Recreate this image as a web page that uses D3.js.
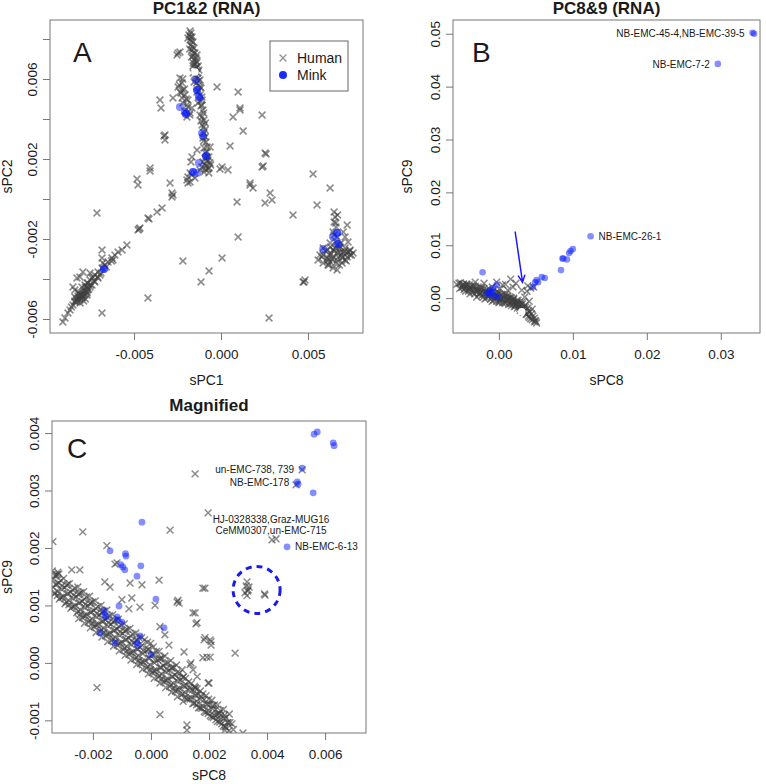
<!DOCTYPE html>
<html><head><meta charset="utf-8">
<script src="https://cdn.jsdelivr.net/npm/d3@7"></script>
<style>body{margin:0;background:#fff} svg{display:block} text{font-family:"Liberation Sans",Arial,sans-serif;fill:#1a1a1a}</style>
</head><body><svg id="c" width="766" height="784"></svg>
<script>
// ---------- DATA ----------
// Panel A: sPC1 vs sPC2
const humanA = [
[-0.00178,0.0084],[-0.00173,0.0083],[-0.00184,0.0082],[-0.00167,0.0081],[-0.00178,0.00795],[-0.00161,0.00785],[-0.0019,0.00805],
[-0.00173,0.0077],[-0.00155,0.00755],[-0.00167,0.00745],[-0.0015,0.0073],[-0.00161,0.00715],[-0.00144,0.00705],[-0.00155,0.00695],
[-0.00138,0.00685],[-0.0015,0.00675],[-0.00132,0.00665],[-0.00161,0.00665],[-0.00144,0.00655],[-0.00127,0.00645],[-0.0015,0.0062],
[-0.00132,0.00605],[-0.00121,0.00595],[-0.00155,0.00585],[-0.00127,0.0057],[-0.00115,0.00555],[-0.00138,0.00535],[-0.00121,0.0052],
[-0.00109,0.00495],[-0.00132,0.0048],[-0.00115,0.00465],[-0.00104,0.00445],[-0.00121,0.0042],[-0.00098,0.00395],[-0.00109,0.0037],
[-0.00092,0.00345],[-0.00104,0.00305],[-0.00086,0.00285],[-0.00098,0.00255],[-0.00081,0.00235],[-0.00092,0.00205],[-0.00075,0.00195],
[-0.00104,0.00185],[-0.00063,0.0018],[-0.00086,0.00165],[-0.00069,0.00155],[-0.00121,0.00145],[-0.00098,0.00135],[-0.00167,0.0012],
[-0.0015,0.00105],[-0.00178,0.00085],[-0.0019,0.0011],[-0.00178,0.0013],[-0.00196,0.00095],[-0.00138,0.0072],[-0.00144,0.0061],
[-0.00115,0.0039],[-0.00098,0.0033],[-0.0008,0.0021],[-0.00092,0.0017],[-0.00075,0.0015],
[-0.00175,0.0081],[-0.0017,0.0079],[-0.00165,0.0076],[-0.0018,0.0075],[-0.0016,0.0073],[-0.0017,0.0071],[-0.00145,0.0069],[-0.0016,0.0068],
[-0.0014,0.0066],[-0.0015,0.0065],[-0.00135,0.0063],[-0.0016,0.0063],[-0.0013,0.0059],[-0.0014,0.0058],[-0.0012,0.0056],[-0.0013,0.0054],
[-0.0011,0.0051],[-0.0012,0.0049],[-0.0011,0.0047],[-0.0010,0.0043],[-0.0011,0.0041],[-0.0009,0.0038],[-0.0010,0.0036],[-0.0009,0.0031],
[-0.0010,0.0029],[-0.0008,0.0026],[-0.0009,0.0023],[-0.0007,0.0021],[-0.0008,0.0019],[-0.0006,0.0017],[-0.0009,0.0015],[-0.0011,0.0016],[-0.0007,0.0013],
[-0.00247,0.0073],[-0.00236,0.00735],[-0.00253,0.0072],[-0.00236,0.00605],[-0.00224,0.0058],[-0.00247,0.0056],[-0.00219,0.00545],
[-0.00236,0.00535],[-0.00207,0.0052],[-0.00224,0.00505],[-0.0019,0.00495],[-0.00196,0.0047],[-0.00167,0.00455],[-0.00196,0.0041],
[-0.00178,0.0043],[-0.00351,0.00495],[-0.00345,0.00455],[-0.00276,0.00505],[-0.00322,0.0032],[-0.00322,0.00295],[-0.00328,0.00315],
[-0.0022,0.0060],[-0.0024,0.0057],[-0.0021,0.0055],[-0.0023,0.0053],[-0.0020,0.0050],[-0.0022,0.0048],[-0.0019,0.0046],[-0.0021,0.0044],[-0.0018,0.0042],
[-0.00023,0.0056],[0.00098,0.00535],[0.00109,0.00455],[0.00069,0.0041],[0.00236,0.0042],[0.00127,0.0034],[0.00052,0.00265],
[0.00259,0.00225],[0.00242,0.00165],[0.00529,0.00125],[0.00627,0.00055],[-0.00006,0.0015],[0.0004,0.00145],[0.00167,0.0008],
[0.00184,0.00055],[0.00282,0.0003],[0.00293,-0.00005],[0.00253,-0.0002],[0.00092,-0.00015],[0.00414,-0.0008],[0.00552,-0.0003],
[0.00098,-0.0019],[0.00477,-0.00415],[0.00483,-0.00405],[-0.00063,0.0026],[-0.00167,0.0021],[-0.00138,0.00245],[-0.00173,0.00185],
[0.00006,0.0016],[-0.00408,0.00155],[-0.00483,0.001],[-0.00477,0.0007],[-0.00408,0.0014],[-0.00293,0.0008],[-0.00282,0.0003],
[-0.00276,0.0002],[-0.00282,0.0001],[-0.0019,0.0008],[-0.00713,-0.0007],[-0.00339,-0.00045],[-0.00368,-0.00065],[-0.00414,-0.001],
[-0.0042,-0.00095],[-0.00219,-0.0031],[0.00006,-0.00295],[-0.00069,-0.0036],[-0.00115,-0.00415],[-0.0042,-0.00495],[-0.00684,-0.0057],
[0.00276,-0.00595],[0.00472,-0.00415],[0.00109,0.00445],[0.00253,0.0023],[0.00236,0.0016],[0.00167,0.0007],
[-0.00909,-0.00615],[-0.00897,-0.00595],[-0.0088,-0.0057],[-0.00868,-0.00555],[-0.00851,-0.0053],[-0.0084,-0.00515],[-0.00828,-0.00505],
[-0.00822,-0.00495],[-0.00811,-0.0049],[-0.00799,-0.0048],[-0.00794,-0.0047],[-0.00782,-0.00455],[-0.00771,-0.0044],[-0.00765,-0.0042],
[-0.00753,-0.00405],[-0.00742,-0.00395],[-0.00736,-0.0039],[-0.00725,-0.0038],[-0.00707,-0.00365],[-0.00684,-0.00345],[-0.00667,-0.0033],
[-0.0065,-0.00315],[-0.00627,-0.00295],[-0.0061,-0.0028],[-0.00592,-0.00265],[-0.00569,-0.00255],[-0.00541,-0.0023],[-0.00477,-0.00155],
[-0.00466,-0.00145],[-0.00471,-0.0015],[-0.00828,-0.00395],[-0.00811,-0.0039],[-0.00794,-0.00365],[-0.00753,-0.0037],[-0.00851,-0.0044],
[-0.0084,-0.00455],[-0.00684,-0.00255],[-0.00684,-0.00295],[-0.00679,-0.0032],[-0.00621,-0.00305],
[-0.00828,-0.00515],[-0.00811,-0.00505],[-0.00799,-0.00495],[-0.00822,-0.00485],[-0.00782,-0.0048],[-0.00794,-0.0049],[-0.00771,-0.00465],
[-0.00811,-0.0047],[-0.0084,-0.0049],[-0.00765,-0.00455],[-0.00753,-0.0044],[-0.00742,-0.0043],[-0.00725,-0.00415],[-0.00782,-0.0043],
[-0.00707,-0.00395],[-0.00696,-0.0038],[-0.0079,-0.0051],[-0.0081,-0.0048],[-0.0077,-0.0047],
[-0.0083,-0.0050],[-0.0081,-0.0052],[-0.0080,-0.0048],[-0.0078,-0.0050],[-0.0079,-0.0046],[-0.0077,-0.0048],[-0.0076,-0.0045],[-0.0082,-0.0047],
[-0.0084,-0.0051],[-0.0078,-0.0044],[-0.0075,-0.0043],[-0.0073,-0.0041],[-0.0071,-0.0039],[-0.0069,-0.0037],[-0.0066,-0.0034],[-0.0063,-0.0031],
[-0.0086,-0.0054],[-0.0080,-0.0044],[-0.0077,-0.0042],
[0.0065,-0.00065],[0.00656,-0.0009],[0.0065,-0.00115],[0.00661,-0.0014],[0.00644,-0.00165],[0.00667,-0.0019],[0.00702,-0.00165],
[0.00725,-0.0013],[0.00713,-0.0019],[0.0073,-0.00215],[0.00627,-0.0022],[0.0061,-0.00255],[0.00587,-0.00245],[0.00569,-0.0028],
[0.00558,-0.00305],[0.00587,-0.0032],[0.00615,-0.0033],[0.00644,-0.00345],[0.00667,-0.00355],[0.00696,-0.0032],[0.00713,-0.00305],
[0.00742,-0.0028],[0.00759,-0.0027],[0.0073,-0.00265],[0.00702,-0.0027],[0.00673,-0.0029],[0.00644,-0.0029],[0.00627,-0.0028],
[0.0061,-0.00295],[0.00656,-0.00245],[0.00684,-0.0024],[0.00713,-0.00245],[0.00725,-0.0029],[0.00627,-0.00315],[0.00667,-0.00305],
[0.00696,-0.00295],[0.00587,-0.0028],[0.00742,-0.00255],[0.00684,-0.00265],[0.00644,-0.00255],[0.00667,-0.0023],[0.0065,-0.0026],
[0.0069,-0.0028],[0.0072,-0.0027],[0.0062,-0.0030],[0.0066,-0.0032],
[0.0060,-0.0026],[0.0063,-0.0024],[0.0068,-0.0025],[0.0071,-0.0026],[0.0074,-0.0026],[0.0070,-0.0029],[0.0067,-0.0027],[0.0064,-0.0030],
[0.0061,-0.0031],[0.0058,-0.0029],[0.0068,-0.0033],[0.0072,-0.0031],[0.0066,-0.0021],[0.0069,-0.0022],[0.0065,-0.0018],[0.0066,-0.0012],
[0.0067,-0.0008],[0.0063,-0.0027],[0.0075,-0.0028],[0.0062,-0.0033]
];
const minkA = [
[-0.00144,0.00595],[-0.00138,0.00545],[-0.00138,0.00545],[-0.00126,0.0051],[-0.00126,0.0051],[-0.00236,0.0046],[-0.00207,0.00435],
[-0.00201,0.00425],[-0.00201,0.00425],[-0.00109,0.0033],[-0.00104,0.00315],[-0.00086,0.00215],[-0.00086,0.00215],[-0.00127,0.0018],
[-0.00161,0.00135],[-0.00161,0.00135],[-0.00138,0.0013],[-0.00673,-0.0035],[-0.00673,-0.0035],[0.00667,-0.0017],[0.00667,-0.0017],
[0.00673,-0.00225],[0.00673,-0.00225],[0.00587,-0.0025],[0.00644,-0.0019]
];
const whiteA = [[-0.0015,0.00635]];

// Panel B: sPC8 vs sPC9
const humanB = [
[-0.0054,0.0028],[-0.0049,0.0025],[-0.0043,0.0026],[-0.0039,0.0021],[-0.0034,0.0023],[-0.0028,0.0017],[-0.0023,0.0019],[-0.0018,0.0013],
[-0.0012,0.0015],[-0.0007,0.0009],[-0.0001,0.0011],[0.0004,0.0006],[0.0009,0.0008],[0.0015,0.0002],[0.0020,0],[0.0026,-0.0004],
[0.0031,-0.0008],[0.0036,-0.0013],[0.0039,-0.0019],[0.0042,-0.0026],[0.0046,-0.0034],[0.0049,-0.0042],[0.0051,-0.0047],
[-0.0046,0.0019],[-0.0036,0.0015],[-0.0026,0.0009],[-0.0015,0.0004],[-0.0005,0],[0.0001,-0.0004],[0.0008,-0.0008],[0.0015,-0.0011],
[0.0022,-0.0015],[0.0028,-0.0019],[0.0034,-0.0026],[-0.0009,0.0021],[0.0001,0.0017],[0.0012,0.0015],[0.0019,0.0021],[0.0009,0.0026],
[0.0016,0.0036],[0.0023,0.0028],[0.0031,0.0015],[0.0038,0.0013],[0.0043,0.0019],[0.0047,0.0021],[0.0039,0.0023],[-0.0039,0.0008],
[-0.0030,0.0002],[-0.0019,-0.0002],[-0.0009,-0.0006],[0,-0.0009],[0.0011,-0.0002],[0.0018,-0.0006],[0.0024,-0.0011],[-0.0057,0.0026],
[-0.0032,0.0030],[-0.0020,0.0028],[-0.0003,0.0030],[0.0005,0.0025],[0.0035,0.0002],[0.0041,-0.0006],[0.0045,-0.0021],
[-0.0050,0.0020],[-0.0044,0.0022],[-0.0031,0.0014],[-0.0022,0.0012],[-0.0013,0.0008],[-0.0004,0.0005],[0.0006,0.0001],[0.0012,-0.0003],
[0.0019,-0.0004],[0.0025,-0.0008],[0.0030,-0.0013],[0.0033,-0.0018],[0.0038,-0.0030],[0.0043,-0.0039],[0.0048,-0.0045],
[-0.0047,0.0023],[-0.0041,0.0017],[-0.0025,0.0015],[-0.0016,0.0010],[-0.0002,0.0003],[0.0003,-0.0001],[0.0010,0.0003],[0.0017,0.0000],
[0.0021,-0.0009],[0.0027,-0.0012],[0.0032,-0.0022],[0.0040,-0.0034],
[-0.0052,0.0029],[-0.0053,0.0018],[-0.0048,0.0027],[-0.0047,0.0016],[-0.0049,0.0022],[-0.0044,0.0027],[-0.0045,0.0013],
[-0.0040,0.0025],[-0.0041,0.0013],[-0.0040,0.0018],[-0.0036,0.0023],[-0.0035,0.0011],[-0.0037,0.0018],[-0.0032,0.0022],[-0.0033,0.0008],
[-0.0031,0.0017],[-0.0028,0.0021],[-0.0027,0.0006],[-0.0029,0.0012],[-0.0024,0.0020],[-0.0023,0.0005],[-0.0025,0.0010],[-0.0020,0.0018],
[-0.0021,0.0002],[-0.0019,0.0009],[-0.0016,0.0016],[-0.0017,0.0000],[-0.0015,0.0007],[-0.0012,0.0011],[-0.0011,-0.0002],[-0.0013,0.0004],
[-0.0008,0.0013],[-0.0007,-0.0004],[-0.0009,0.0003],[-0.0004,0.0010],[-0.0003,-0.0006],[-0.0005,0.0002],[0,0.0009],[0.0001,-0.0007],
[-0.0001,0.0001],[0.0004,0.0007],[0.0005,-0.0009],[0.0003,-0.0002],[0.0008,0.0005],[0.0009,-0.0010],[0.0007,-0.0003],[0.0012,0.0003],
[0.0013,-0.0012],[0.0011,-0.0005],[0.0016,0.0001],[0.0017,-0.0014],[0.0015,-0.0007],[0.0020,-0.0002],[0.0021,-0.0016],[0.0019,-0.0009],
[0.0024,-0.0005],[0.0025,-0.0019],[0.0023,-0.0012],[0.0028,-0.0008],[0.0029,-0.0023],[0.0027,-0.0015],[0.0032,-0.0011],[0.0033,-0.0027],
[0.0031,-0.0019],[0.0036,-0.0017],[0.0037,-0.0031],[0.0035,-0.0024],[0.0040,-0.0024],[0.0041,-0.0037],[0.0044,-0.0030],[0.0045,-0.0041],
[0.0048,-0.0038],[0.0050,-0.0044]
];
const minkB = [
[0.0343,0.0502],[0.0345,0.0500],[0.0296,0.0443],[0.0124,0.0117],[0.0100,0.0093],[0.0097,0.0089],[0.0095,0.0085],[0.0086,0.0075],
[0.0087,0.0075],[0.0092,0.0073],[0.0084,0.0053],[0.0062,0.0038],[0.0058,0.0040],[0.0051,0.0034],[0.0049,0.0030],[0.0053,0.0030],
[0.0046,0.0021],[-0.0022,0.0049],[-0.0003,0.0025],[-0.0012,0.0015],[-0.0008,0.0019],[-0.0016,0.0009],[-0.0005,0.0004],[-0.0001,0.0002],
[-0.0012,0.0006],[-0.0014,0.0010],[-0.0009,0.0011]
];
const whiteB = [[0.0031,-0.0026]];
const labelsB = [
  {text:"NB-EMC-45-4,NB-EMC-39-5", at:[0.0343,0.0502], side:"left"},
  {text:"NB-EMC-7-2", at:[0.0296,0.0443], side:"left"},
  {text:"NB-EMC-26-1", at:[0.0124,0.0117], side:"right"}
];
const arrowB = {from:[0.0022,0.0126], to:[0.0032,0.0030]};

// Panel C: magnified sPC8 vs sPC9
const humanC = [
[-0.00340,0.00160],[-0.00335,0.00146],[-0.00338,0.00132],[-0.00332,0.00120],[-0.00322,0.00154],[-0.00318,0.00139],[-0.00321,0.00124],[-0.00316,0.00111],
[-0.00301,0.00147],[-0.00297,0.00131],[-0.00302,0.00116],[-0.00296,0.00103],[-0.00281,0.00138],[-0.00277,0.00123],[-0.00282,0.00108],[-0.00276,0.00095],
[-0.00262,0.00130],[-0.00257,0.00115],[-0.00261,0.00100],[-0.00256,0.00087],[-0.00241,0.00122],[-0.00237,0.00107],[-0.00242,0.00092],[-0.00236,0.00079],
[-0.00222,0.00115],[-0.00217,0.00099],[-0.00221,0.00084],[-0.00216,0.00071],[-0.00201,0.00106],[-0.00197,0.00091],[-0.00202,0.00076],[-0.00196,0.00063],
[-0.00182,0.00098],[-0.00177,0.00083],[-0.00181,0.00068],[-0.00176,0.00055],[-0.00161,0.00090],[-0.00157,0.00075],[-0.00162,0.00060],[-0.00156,0.00047],
[-0.00142,0.00082],[-0.00137,0.00067],[-0.00141,0.00052],[-0.00136,0.00039],[-0.00121,0.00074],[-0.00117,0.00059],[-0.00122,0.00044],[-0.00116,0.00031],
[-0.00102,0.00066],[-0.00097,0.00051],[-0.00101,0.00036],[-0.00096,0.00023],[-0.00081,0.00058],[-0.00077,0.00043],[-0.00082,0.00028],[-0.00076,0.00015],
[-0.00062,0.00050],[-0.00057,0.00035],[-0.00061,0.00020],[-0.00056,0.00007],[-0.00041,0.00044],[-0.00037,0.00027],[-0.00042,0.00012],[-0.00036,-0.00001],
[-0.00022,0.00040],[-0.00017,0.00021],[-0.00021,0.00004],[-0.00016,-0.00009],[-0.00001,0.00034],[0.00003,0.00015],[-0.00002,-0.00004],[0.00004,-0.00017],
[0.00019,0.00020],[0.00023,0.00005],[0.00018,-0.00012],[0.00024,-0.00025],[0.00039,0.00008],[0.00043,-0.00005],[0.00038,-0.00020],[0.00044,-0.00033],
[0.00059,0.00000],[0.00063,-0.00013],[0.00058,-0.00028],[0.00064,-0.00041],[0.00079,-0.00008],[0.00083,-0.00021],[0.00078,-0.00036],[0.00084,-0.00049],
[0.00099,-0.00018],[0.00103,-0.00030],[0.00098,-0.00044],[0.00104,-0.00056],[0.00119,-0.00027],[0.00123,-0.00039],[0.00118,-0.00052],[0.00124,-0.00063],
[0.00139,-0.00036],[0.00143,-0.00047],[0.00138,-0.00060],[0.00144,-0.00071],[0.00159,-0.00045],[0.00163,-0.00055],[0.00158,-0.00067],[0.00164,-0.00078],
[0.00179,-0.00054],[0.00183,-0.00064],[0.00178,-0.00075],[0.00184,-0.00085],[0.00199,-0.00063],[0.00203,-0.00072],[0.00198,-0.00083],[0.00204,-0.00092],
[0.00219,-0.00073],[0.00223,-0.00081],[0.00218,-0.00091],[0.00224,-0.00099],[0.00239,-0.00083],[0.00243,-0.00090],[0.00238,-0.00099],[0.00244,-0.00106],
[0.00259,-0.00095],[0.00263,-0.00104],[0.00258,-0.00112],[0.00279,-0.00106],[0.00284,-0.00116],
[-0.0033,0.00151],[-0.00328,0.00136],[-0.00331,0.00122],[-0.0031,0.00143],[-0.00308,0.00128],[-0.00311,0.00114],
[-0.0029,0.00135],[-0.00288,0.0012],[-0.00291,0.00106],[-0.0027,0.00127],[-0.00268,0.00112],[-0.00271,0.00098],
[-0.0025,0.00119],[-0.00248,0.00104],[-0.00251,0.0009],[-0.00252,0.00132],[-0.00249,0.00077],
[-0.0023,0.00111],[-0.00228,0.00096],[-0.00231,0.00082],[-0.00232,0.00124],[-0.00229,0.00069],
[-0.0021,0.00103],[-0.00208,0.00088],[-0.00211,0.00074],[-0.00212,0.00116],[-0.00209,0.00061],
[-0.0019,0.00095],[-0.00188,0.0008],[-0.00191,0.00066],[-0.00192,0.00108],[-0.00189,0.00053],
[-0.0017,0.00087],[-0.00168,0.00072],[-0.00171,0.00058],[-0.00172,0.001],[-0.00169,0.00045],
[-0.0015,0.00079],[-0.00148,0.00064],[-0.00151,0.0005],[-0.00152,0.00092],[-0.00149,0.00037],
[-0.0013,0.00071],[-0.00128,0.00056],[-0.00131,0.00042],[-0.00132,0.00084],[-0.00129,0.00029],
[-0.0011,0.00063],[-0.00108,0.00048],[-0.00111,0.00034],[-0.00112,0.00076],[-0.00109,0.00021],
[-0.0009,0.00055],[-0.00088,0.0004],[-0.00091,0.00026],[-0.00092,0.00068],[-0.00089,0.00013],
[-0.0007,0.00047],[-0.00068,0.00032],[-0.00071,0.00018],[-0.00072,0.0006],[-0.00069,0.00005],
[-0.0005,0.00039],[-0.00048,0.00024],[-0.00051,0.0001],[-0.00052,0.00052],[-0.00049,-0.00003],
[-0.0003,0.00031],[-0.00028,0.00016],[-0.00031,0.00002],[-0.00032,0.00044],[-0.00029,-0.00011],
[-0.0001,0.00023],[-0.00008,0.00008],[-0.00011,-0.00006],[-0.00012,0.00036],[-0.00009,-0.00019],
[0.0001,0.00015],[0.00012,0],[0.00009,-0.00014],[0.00008,0.00028],[0.00011,-0.00027],
[0.0003,0.00007],[0.00032,-0.00008],[0.00029,-0.00022],[0.00028,0.0002],[0.00031,-0.00035],
[0.0005,-0.00001],[0.00052,-0.00016],[0.00049,-0.0003],[0.00048,0.00012],[0.00051,-0.00043],
[0.0007,-0.00009],[0.00072,-0.00024],[0.00069,-0.00038],[0.00068,0.00004],[0.00071,-0.00051],
[0.0009,-0.00017],[0.00092,-0.00032],[0.00089,-0.00046],[0.00088,-0.00004],[0.00091,-0.00059],
[0.0011,-0.00025],[0.00112,-0.0004],[0.00109,-0.00054],[0.00108,-0.00012],[0.00111,-0.00067],
[0.0013,-0.00033],[0.00132,-0.00048],[0.00129,-0.00062],[0.0015,-0.00041],[0.00152,-0.00056],[0.00149,-0.0007],
[0.0017,-0.00049],[0.00172,-0.00064],[0.00169,-0.00078],[0.0019,-0.00057],[0.00192,-0.00072],[0.00189,-0.00086],
[0.0021,-0.00065],[0.00212,-0.0008],[0.00209,-0.00094],[0.0023,-0.00073],[0.00232,-0.00088],[0.00229,-0.00102],
[0.0025,-0.00081],[0.00252,-0.00096],[0.00249,-0.0011],[0.0027,-0.00089],[0.00272,-0.00104],[0.00269,-0.00118],
[-0.00325,0.00137],[-0.00323,0.00117],[-0.00327,0.00153],[-0.00285,0.00121],[-0.00283,0.00101],[-0.00287,0.00137],
[-0.00245,0.00105],[-0.00243,0.00085],[-0.00247,0.00121],[-0.00205,0.00089],[-0.00203,0.00069],[-0.00207,0.00105],
[-0.00165,0.00073],[-0.00163,0.00053],[-0.00167,0.00089],[-0.00125,0.00057],[-0.00123,0.00037],[-0.00127,0.00073],
[-0.00085,0.00041],[-0.00083,0.00021],[-0.00087,0.00057],[-0.00045,0.00024],[-0.00043,0.00004],[-0.00047,0.0004],
[-0.00005,0.00008],[-0.00003,-0.00012],[-0.00007,0.00024],[0.00035,-0.00008],[0.00037,-0.00028],[0.00033,0.00008],
[0.00075,-0.00024],[0.00077,-0.00044],[0.00073,-0.00008],[0.00115,-0.0004],[0.00117,-0.0006],[0.00113,-0.00024],
[0.00155,-0.00056],[0.00157,-0.00073],[0.00153,-0.00044],[0.00195,-0.00072],[0.00197,-0.00088],[0.00235,-0.00088],[0.00237,-0.00103],
[-0.00305,0.00114],[-0.00306,0.00134],[-0.00265,0.00098],[-0.00266,0.00118],[-0.00225,0.00082],[-0.00226,0.00102],
[-0.00185,0.00066],[-0.00186,0.00086],[-0.00145,0.0005],[-0.00146,0.0007],[-0.00105,0.00034],[-0.00106,0.00054],
[-0.00065,0.00018],[-0.00066,0.00038],[-0.00025,0.00001],[-0.00026,0.00021],[0.00015,-0.00015],[0.00014,0.00005],
[0.00055,-0.00031],[0.00054,-0.00011],[0.00095,-0.00047],[0.00094,-0.00027],[0.00135,-0.00063],[0.00134,-0.00043],
[0.00175,-0.00079],[0.00174,-0.00059],[0.00215,-0.00095],[0.00214,-0.00075],[0.00255,-0.00111],[0.00254,-0.00091],
[0.00152,0.00329],[0.00197,0.00261],[0.00066,0.00231],[-0.00235,0.00228],[-0.00338,0.00211],[-0.00152,0.00204],[0.00417,0.00214],[0.00431,0.00216],
[0.00521,0.00336],[0.005,0.0031],[-0.00124,0.00172],[-0.00117,0.00174],[-0.00245,0.00162],[-0.00273,0.00162],[-0.00321,0.00158],[-0.00317,0.00155],
[-0.00159,0.00141],[-0.00141,0.00132],[-0.00072,0.00139],[-0.00031,0.00136],[0.00028,0.00144],[0.00186,0.0013],[0.0009,0.00106],[0.00097,0.00104],
[0.00093,0.00109],[-0.00066,0.00113],[-0.00076,0.00094],[-0.00038,0.00097],[0.00014,0.001],[-0.001,0.0011],[0.00152,0.00087],[0.00155,0.00068],
[0.0029,0.00017],[0.00186,0.00044],[0.00204,0.0004],[0.00204,0.0001],[0.00193,0.0001],[0.00207,0.00031],[0.00114,0.00019],[0.00062,0.00031],
[0.00031,0.00063],[0.00048,0.00049],[-0.00186,-0.00043],[0.00031,-0.0009],[0.00124,-0.00108],[0.002,-0.00035],[0.00138,0],[0.00159,-0.00024],
[0.00179,0.0013],[0.00145,0.00087],[0.00159,0.0007],[0.00183,0.0004],[0.00207,0.00037],[0.00179,0.00009],[0.00197,-0.00035],[0.00135,-0.00003],
[0.00145,-0.00012],[0.00152,-0.00043],[0.00228,-0.0009],[0.00266,-0.00104],[0.00255,-0.00117],[0.00317,-0.00122],[0.00124,-0.00117],
[0.00331,0.00141],[0.00328,0.00134],[0.00335,0.00127],[0.00324,0.00122],[0.00331,0.00117],[0.00338,0.00132],[0.00333,0.00125],[0.00393,0.00118],[0.00391,0.0012]
];
const minkC = [
[0.00573,0.00402],[0.00562,0.00398],[0.00628,0.00383],[0.00631,0.00378],[0.00521,0.00339],[0.00504,0.00315],[0.00507,0.00311],[0.00559,0.00296],
[0.00469,0.00202],[-0.00031,0.00245],[-0.00141,0.00195],[-0.00088,0.0019],[-0.00086,0.00186],[-0.00104,0.00171],[-0.00097,0.00167],[-0.0009,0.00162],
[-0.00035,0.00169],[-0.00048,0.00151],[0.00017,0.00111],[-0.00162,0.00092],[-0.00159,0.00084],[-0.00155,0.0008],[-0.00117,0.0008],[-0.00114,0.00075],
[-0.0011,0.00099],[-0.00038,0.00047],[-0.00048,0.00035],[-0.00045,0.00031],[0,0.00014],[0.00045,0.00061],[-0.00176,0.00052],[-0.00124,0.00035],[-0.001,0.00071]
];
const labelsC = [
  {text:"un-EMC-738, 739", at:[0.00521,0.00339], side:"left"},
  {text:"NB-EMC-178", at:[0.00504,0.00315], side:"left"},
  {text:"HJ-0328338,Graz-MUG16", at:[0.00424,0.00215], side:"top2"},
  {text:"CeMM0307,un-EMC-715", at:[0.00424,0.00215], side:"top1"},
  {text:"NB-EMC-6-13", at:[0.00469,0.00202], side:"right"}
];
const circleC = {center:[0.00364,0.00127], rx:0.00081};

// Axis ticks
const ticksA = {x:[-0.005,0,0.005], xLab:["-0.005","0.000","0.005"],
  y:[-0.006,-0.004,-0.002,0,0.002,0.004,0.006,0.008], yLab:["-0.006","","-0.002","","0.002","","0.006",""]};
const ticksB = {x:[0,0.01,0.02,0.03], xLab:["0.00","0.01","0.02","0.03"],
  y:[0,0.01,0.02,0.03,0.04,0.05], yLab:["0.00","0.01","0.02","0.03","0.04","0.05"]};
const ticksC = {x:[-0.002,0,0.002,0.004,0.006], xLab:["-0.002","0.000","0.002","0.004","0.006"],
  y:[-0.001,0,0.001,0.002,0.003,0.004], yLab:["-0.001","0.000","0.001","0.002","0.003","0.004"]};

// ---------- DRAW ----------
const svg = d3.select("#c");
const HUMAN = "rgba(62,62,62,0.6)";
const MINK = "rgba(10,30,255,0.5)";
const xPath = s => `M${-s},${-s}L${s},${s}M${-s},${s}L${s},${-s}`;

function panel(o){
  const [L,T,R,B] = o.box;
  const x = d3.scaleLinear().domain(o.xDom).range([L,R]);
  const y = d3.scaleLinear().domain(o.yDom).range([B,T]);
  const g = svg.append("g");
  const cid = "clip"+o.letter;
  svg.append("clipPath").attr("id",cid).append("rect").attr("x",L).attr("y",T).attr("width",R-L).attr("height",B-T);
  const pg = g.append("g").attr("clip-path",`url(#${cid})`);
  pg.selectAll("path.h").data(o.human).join("path").attr("class","h")
    .attr("d",xPath(3.4)).attr("transform",d=>`translate(${x(d[0])},${y(d[1])})`)
    .attr("stroke",HUMAN).attr("stroke-width",1.5).attr("fill","none");
  pg.selectAll("circle.m").data(o.mink).join("circle").attr("class","m")
    .attr("cx",d=>x(d[0])).attr("cy",d=>y(d[1])).attr("r",o.r).attr("fill",MINK);
  pg.selectAll("circle.w").data(o.white||[]).join("circle").attr("class","w")
    .attr("cx",d=>x(d[0])).attr("cy",d=>y(d[1])).attr("r",3.8).attr("fill","#fff");
  // box
  g.append("rect").attr("x",L).attr("y",T).attr("width",R-L).attr("height",B-T)
    .attr("fill","none").attr("stroke","#777").attr("stroke-width",1);
  // axes
  const t = o.ticks;
  const ax = g.append("g").attr("transform",`translate(0,${B})`)
    .call(d3.axisBottom(x).tickValues(t.x).tickSize(7).tickFormat((d,i)=>t.xLab[i]));
  ax.select(".domain").remove();
  ax.selectAll("line").attr("stroke","#777");
  ax.selectAll("text").attr("y",26).attr("dy",0).attr("font-size",13.5)
    .attr("font-family","Liberation Sans, Arial, sans-serif").attr("fill","#1a1a1a");
  const ay = g.append("g").attr("transform",`translate(${L},0)`)
    .call(d3.axisLeft(y).tickValues(t.y).tickSize(7).tickFormat((d,i)=>t.yLab[i]));
  ay.select(".domain").remove();
  ay.selectAll("line").attr("stroke","#777");
  ay.selectAll("text").attr("x",0).attr("y",0).attr("dy",0).attr("text-anchor","middle")
    .attr("transform","translate(-13,0) rotate(-90)").attr("font-size",13.5)
    .attr("font-family","Liberation Sans, Arial, sans-serif").attr("fill","#1a1a1a");
  // titles & labels
  g.append("text").attr("x",(L+R)/2).attr("y",o.titleY).attr("text-anchor","middle")
    .attr("font-weight","bold").attr("font-size",17).text(o.title);
  g.append("text").attr("x",(L+R)/2).attr("y",o.xLabY).attr("text-anchor","middle")
    .attr("font-size",14).text(o.xLab);
  g.append("text").attr("transform",`translate(${o.yLabX},${(T+B)/2}) rotate(-90)`).attr("text-anchor","middle")
    .attr("font-size",14).text(o.yLab);
  g.append("text").attr("x",o.letterPos[0]).attr("y",o.letterPos[1]).attr("font-size",28).text(o.letter);
  // point labels
  (o.labels||[]).forEach(l=>{
    const px = x(l.at[0]), py = y(l.at[1]);
    const tx = g.append("text").attr("font-size",10).attr("dy","0.35em").text(l.text);
    if(l.side==="left") tx.attr("x",px-8).attr("y",py+1).attr("text-anchor","end");
    else if(l.side==="right") tx.attr("x",px+8).attr("y",py).attr("text-anchor","start");
    else if(l.side==="top2") tx.attr("x",px-3).attr("y",py-20).attr("text-anchor","middle");
    else if(l.side==="top1") tx.attr("x",px-3).attr("y",py-9).attr("text-anchor","middle");
  });
  return {g,x,y};
}

// Panel A
const pA = panel({box:[50,20,363,333], xDom:[-0.00983,0.00816], yDom:[-0.0067,0.00895],
  human:humanA, mink:minkA, white:whiteA, r:4, ticks:ticksA, title:"PC1&2 (RNA)", titleY:14,
  xLab:"sPC1", xLabY:385, yLab:"sPC2", yLabX:12, letter:"A", letterPos:[73,62]});
// legend
const lg = pA.g.append("g");
lg.append("rect").attr("x",270).attr("y",41).attr("width",78).attr("height",50).attr("fill","#fff").attr("stroke","#666");
lg.append("path").attr("d",xPath(3.4)).attr("transform","translate(283,58)").attr("stroke","rgba(62,62,62,0.55)").attr("stroke-width",1.4).attr("fill","none");
lg.append("circle").attr("cx",283).attr("cy",75).attr("r",4).attr("fill","#1a2cff");
lg.append("text").attr("x",297).attr("y",63).attr("font-size",14).text("Human");
lg.append("text").attr("x",297).attr("y",80).attr("font-size",14).text("Mink");

// Panel B
const pB = panel({box:[453,20,760,333], xDom:[-0.0062,0.0353], yDom:[-0.0066,0.0526],
  human:humanB, mink:minkB, white:whiteB, r:3.3, ticks:ticksB, title:"PC8&9 (RNA)", titleY:14,
  xLab:"sPC8", xLabY:385, yLab:"sPC9", yLabX:412, letter:"B", letterPos:[472,62], labels:labelsB});
{
  const x1=pB.x(arrowB.from[0]), y1=pB.y(arrowB.from[1]), x2=pB.x(arrowB.to[0]), y2=pB.y(arrowB.to[1]);
  const ang = Math.atan2(y2-y1,x2-x1), hl=8, ha=Math.PI/7;
  pB.g.append("path").attr("d",`M${x1},${y1}L${x2},${y2}M${x2-hl*Math.cos(ang-ha)},${y2-hl*Math.sin(ang-ha)}L${x2},${y2}L${x2-hl*Math.cos(ang+ha)},${y2-hl*Math.sin(ang+ha)}`)
    .attr("stroke","#1a1aff").attr("stroke-width",1.5).attr("fill","none");
}

// Panel C
const pC = panel({box:[52,421,366,733], xDom:[-0.00341,0.00741], yDom:[-0.00122,0.00421],
  human:humanC, mink:minkC, r:3.4, ticks:ticksC, title:"Magnified", titleY:411,
  xLab:"sPC8", xLabY:780, yLab:"sPC9", yLabX:12, letter:"C", letterPos:[67,458], labels:labelsC});
{
  const cx=pC.x(circleC.center[0]), cy=pC.y(circleC.center[1]);
  const r = pC.x(circleC.center[0]+circleC.rx)-cx;
  pC.g.append("circle").attr("cx",cx).attr("cy",cy).attr("r",r).attr("fill","none")
    .attr("stroke","#1a1aee").attr("stroke-width",3).attr("stroke-dasharray","6,5");
}
</script></body></html>
